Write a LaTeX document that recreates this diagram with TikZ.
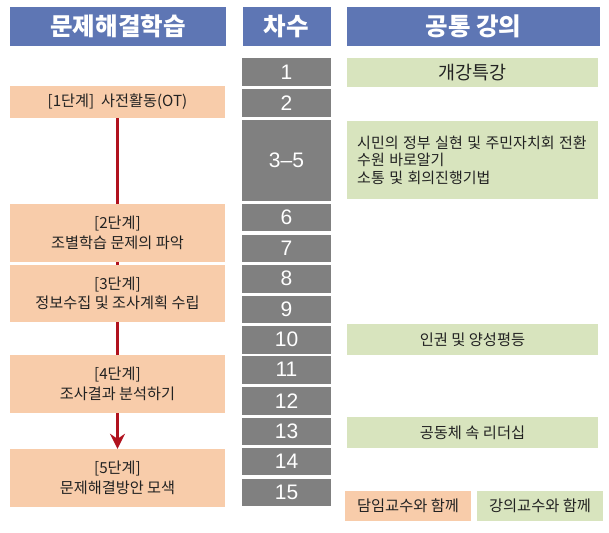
\documentclass[tikz,border=0pt]{standalone}
\usepackage{fontspec}
\setmainfont{Noto Sans CJK KR}
\newfontfamily\numfont{Liberation Sans}
\usetikzlibrary{arrows.meta,backgrounds}
\definecolor{hdrblue}{RGB}{94,118,180}
\definecolor{numgray}{RGB}{128,128,128}
\definecolor{peach}{RGB}{248,204,170}
\definecolor{lgreen}{RGB}{216,228,190}
\definecolor{darkred}{RGB}{176,18,30}
\definecolor{txt}{RGB}{34,34,34}
\newcommand{\widesp}{\spaceskip=0.3em\relax}
\tikzset{
  hdr/.style={fill=hdrblue, text=white, inner sep=0pt, minimum height=39pt,
    font=\bfseries\fontsize{24.5}{24.5}\selectfont},
  numbox/.style={fill=numgray, text=white, inner sep=0pt, minimum width=89pt,
    minimum height=27.5pt, font=\numfont\fontsize{21}{21}\selectfont},
  stepbox/.style={fill=peach, text=txt, inner sep=0pt, minimum width=215pt,
    align=center, font=\fontsize{15.2}{19.5}\selectfont},
  lectbox/.style={fill=lgreen, text=txt, inner sep=0pt, minimum width=251pt,
    font=\fontsize{15.3}{17.5}\selectfont},
  legbox/.style={inner sep=0pt, minimum width=126pt, minimum height=30pt, text=txt,
    font=\fontsize{15.3}{17.5}\selectfont},
  redline/.style={draw=darkred, line width=3pt,
    -{Stealth[length=15pt,width=15pt,inset=5pt]}}
}
\begin{document}
\begin{tikzpicture}[x=1pt,y=-1pt]
\useasboundingbox (0,0) rectangle (609,532);
% headers
\node[hdr, minimum width=216pt] (h1) at (118,26.5) {문제해결학습};
\node[hdr, minimum width=88pt] (h2) at (286.5,26.5) {차수};
\node[hdr, minimum width=253pt] (h3) at (473.5,26.5) {공통 강의};
% session numbers
\node[numbox, minimum height=28pt] (n1) at (286.5,72) {1};
\node[numbox, minimum height=28pt] (n2) at (286.5,103) {2};
\node[numbox, minimum height=81pt] (n3) at (286.5,160.5) {3–5};
\node[numbox] (n6) at (286.5,217.5) {6};
\node[numbox] (n7) at (286.5,248.25) {7};
\node[numbox] (n8) at (286.5,278.75) {8};
\node[numbox] (n9) at (286.5,309.25) {9};
\node[numbox] (n10) at (286.5,339.75) {10};
\node[numbox] (n11) at (286.5,369.75) {11};
\node[numbox] (n12) at (286.5,400.75) {12};
\node[numbox] (n13) at (286.5,431.25) {13};
\node[numbox] (n14) at (286.5,461.5) {14};
\node[numbox] (n15) at (286.5,492.25) {15};
% steps
\node[stepbox, minimum height=32pt] (s1) at (117.5,102) {[1단계]\ \ 사전활동(OT)};
\node[stepbox, minimum height=58.5pt] (s2) at (117.5,232.75) {[2단계]\\조별학습 문제의 파악};
\node[stepbox, minimum height=57pt] (s3) at (117.5,293.5) {[3단계]\\정보수집 및 조사계획 수립};
\node[stepbox, minimum height=58pt] (s4) at (117.5,384) {[4단계]\\조사결과 분석하기};
\node[stepbox, minimum height=58pt] (s5) at (117.5,478) {[5단계]\\문제해결방안 모색};
\begin{scope}[on background layer]
\draw[redline] (s1.south) -- (s5.north);
\end{scope}
% common lectures
\node[lectbox, minimum height=29pt, font=\fontsize{18.5}{18.5}\selectfont] (g1) at (472.5,72.5) {개강특강};
\node[lectbox, minimum height=78pt] (g2) at (472.5,160) {};
\node[anchor=west, inner sep=0pt, align=left, text=txt, font=\fontsize{15}{17.5}\selectfont\widesp] (g2t) at (357,160) {시민의 정부 실현 및 주민자치회 전환\\수원 바로알기\\소통 및 회의진행기법};
\node[lectbox, minimum height=31pt] (g3) at (472.5,339.5) {인권 및 양성평등};
\node[lectbox, minimum height=31pt] (g4) at (472.5,432.5) {공동체 속 리더십};
% legend
\node[legbox, fill=peach] (l1) at (408,506) {담임교수와 함께};
\node[legbox, fill=lgreen] (l2) at (540,506) {강의교수와 함께};
\end{tikzpicture}
\end{document}
